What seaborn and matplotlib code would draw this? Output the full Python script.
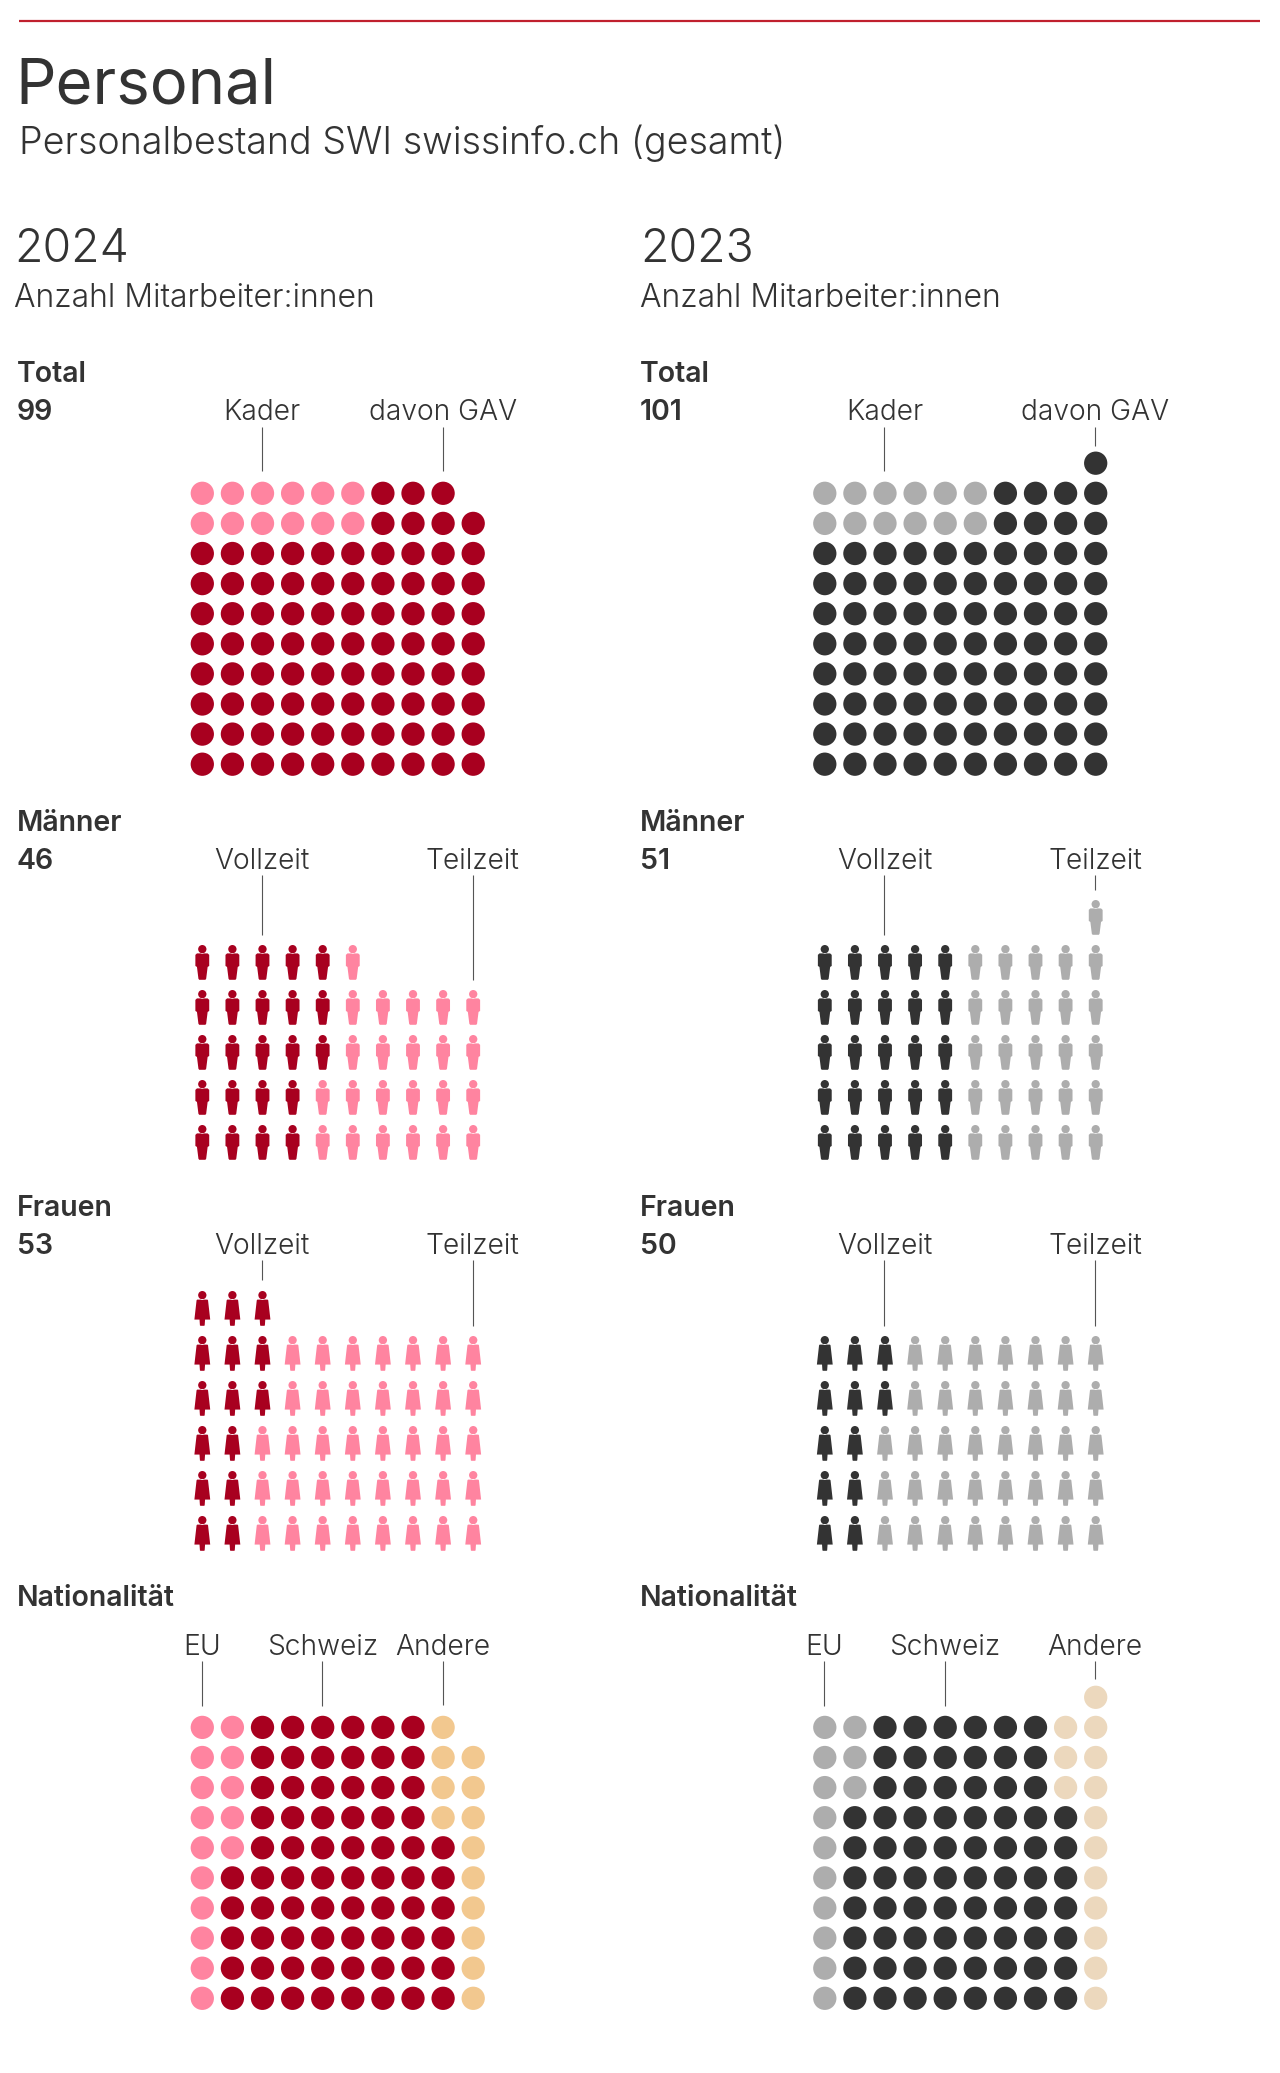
import numpy as np
import pandas as pd
import seaborn as sns
import matplotlib
matplotlib.use("Agg")
import matplotlib.pyplot as plt
from matplotlib.path import Path

W, H = 1280, 2073
# ---- data: per-column counts, each column stacked from the top ----
total_2024_kader = [2, 2, 2, 2, 2, 2, 0, 0, 0, 0]
total_2024_gav = [8, 8, 8, 8, 8, 8, 10, 10, 10, 9]
total_2023_kader = [2, 2, 2, 2, 2, 2, 0, 0, 0, 0]
total_2023_gav = [8, 8, 8, 8, 8, 8, 10, 10, 10, 11]
men_2024_voll = [5, 5, 5, 5, 3, 0, 0, 0, 0, 0]
men_2024_teil = [0, 0, 0, 0, 2, 5, 4, 4, 4, 4]
men_2023_voll = [5, 5, 5, 5, 5, 0, 0, 0, 0, 0]
men_2023_teil = [0, 0, 0, 0, 0, 5, 5, 5, 5, 6]
women_2024_voll = [6, 6, 3, 0, 0, 0, 0, 0, 0, 0]
women_2024_teil = [0, 0, 3, 5, 5, 5, 5, 5, 5, 5]
women_2023_voll = [5, 5, 2, 0, 0, 0, 0, 0, 0, 0]
women_2023_teil = [0, 0, 3, 5, 5, 5, 5, 5, 5, 5]
nat_2024_eu = [10, 5, 0, 0, 0, 0, 0, 0, 0, 0]
nat_2024_ch = [0, 5, 10, 10, 10, 10, 10, 10, 6, 0]
nat_2024_other = [0, 0, 0, 0, 0, 0, 0, 0, 4, 9]
nat_2023_eu = [10, 3, 0, 0, 0, 0, 0, 0, 0, 0]
nat_2023_ch = [0, 7, 10, 10, 10, 10, 10, 10, 7, 0]
nat_2023_other = [0, 0, 0, 0, 0, 0, 0, 0, 3, 11]

RED, PINK, TAN24 = "#A8001F", "#FF84A0", "#F2C88F"
DARK, GREY, TAN23 = "#333333", "#ADADAD", "#ECD8BD"
TEXT = "#333333"

sns.set_theme(style="white")
plt.rcParams["font.family"] = ["Inter", "DejaVu Sans"]

fig = plt.figure(figsize=(W / 100, H / 100), dpi=100, facecolor="white")
ov = fig.add_axes([0, 0, 1, 1], zorder=5)
ov.set_xlim(0, W); ov.set_ylim(H, 0); ov.axis("off"); ov.patch.set_alpha(0)


def body(points):
    return Path(points + [points[0]], closed=True)


def person(kind):
    head = Path.circle((0, 13.5), 4.2)
    if kind == "man":
        pts = [(-5.4, 9.2), (5.4, 9.2), (7.0, 7.7), (7.0, -3.5), (5.4, -4.5),
               (3.9, -16.5), (3.1, -17.5), (-3.1, -17.5), (-3.9, -16.5),
               (-5.4, -4.5), (-7.0, -3.5), (-7.0, 7.7)]
    else:
        pts = [(-5.2, 9.0), (5.2, 9.0), (5.8, 8.3), (8.0, -11.2), (2.8, -11.2),
               (2.4, -17.0), (1.9, -17.5), (-1.9, -17.5), (-2.4, -17.0),
               (-2.8, -11.2), (-8.0, -11.2), (-5.8, 8.3)]
    return Path.make_compound_path(head, body(pts))


def cells(columns):
    """columns: list of per-column counts for each group, stacked from the top."""
    rows = []
    heights = np.sum(columns, axis=0)
    for c, h in enumerate(heights):
        top = h - 1
        for g, col in enumerate(columns):
            for _ in range(col[c]):
                rows.append((c, top, g))
                top -= 1
    return pd.DataFrame(rows, columns=["col", "row", "group"])


def waffle(columns, colors, left, bottom_y, step_y, marker, size):
    step_x = 30.1
    nrows = 12
    x0 = left - step_x / 2
    h = nrows * step_y
    y_bottom = bottom_y + step_y / 2
    ax = fig.add_axes([x0 / W, 1 - y_bottom / H, 10 * step_x / W, h / H], zorder=2)
    df = cells(columns)
    sns.scatterplot(data=df, x="col", y="row", hue="group",
                    palette=dict(enumerate(colors)), marker=marker, s=size,
                    linewidth=0, legend=False, ax=ax, clip_on=False)
    ax.set_xlim(-0.5, 9.5); ax.set_ylim(-0.5, nrows - 0.5)
    ax.axis("off"); ax.patch.set_alpha(0)


def t(x, y, s, size, weight=300, ha="left"):
    ov.text(x, y, s, fontsize=size, fontweight=weight, color=TEXT, ha=ha, va="baseline")


def leader(x, y0, y1):
    ov.plot([x - 0.6, x - 0.6], [y0, y1], color="#555555", lw=0.8, solid_capstyle="butt")


LABEL, HEAD = 20.3, 20.5
ov.plot([19, 1260], [21, 21], color="#C0202E", lw=1.6, solid_capstyle="butt")
t(15, 103, "Personal", 45.6, 400)
t(19, 154, "Personalbestand SWI swissinfo.ch (gesamt)", 27.05)

DOT, PERSON = 281, 635
COLS = [(202.3, 14, 17, RED, PINK, TAN24), (824.8, 640, 640, DARK, GREY, TAN23)]
YEARS = ["2024", "2023"]
TOTALS = [("99", "46", "53"), ("101", "51", "50")]
DATA = [
    (total_2024_kader, total_2024_gav, men_2024_voll, men_2024_teil, women_2024_voll,
     women_2024_teil, nat_2024_eu, nat_2024_ch, nat_2024_other),
    (total_2023_kader, total_2023_gav, men_2023_voll, men_2023_teil, women_2023_voll,
     women_2023_teil, nat_2023_eu, nat_2023_ch, nat_2023_other),
]
# leader ends (px): Total GAV, Männer Teilzeit, Frauen Vollzeit, Andere col, Andere end
ENDS = [dict(gav=471, mt=980, fv=1280, oc=8, oe=1705),
        dict(gav=446, mt=890, fv=1326, oc=9, oe=1679)]

for i in range(2):
    x0, xh, xl, dark, light, tan = COLS[i]
    d = DATA[i]
    e = ENDS[i]
    cx = lambda k: x0 + 30.1 * k
    lx = lambda k: cx(k) - 0.5
    t(xh, 262, YEARS[i], 33.4)
    t(xh, 307, "Anzahl Mitarbeiter:innen", 23)

    t(xl, 382, "Total", HEAD, 600); t(xl, 420, TOTALS[i][0], HEAD, 600)
    t(lx(2), 420, "Kader", LABEL, ha="center"); leader(cx(2), 427, 471)
    t(lx(8 if i == 0 else 9), 420, "davon GAV", LABEL, ha="center")
    leader(cx(8 if i == 0 else 9), 427, e["gav"])
    waffle([d[0], d[1]], [light, dark], x0, 764.2, 30.1, "o", DOT)

    t(xl, 831, "Männer", HEAD, 600); t(xl, 869, TOTALS[i][1], HEAD, 600)
    t(lx(2), 869, "Vollzeit", LABEL, ha="center"); leader(cx(2), 875, 935)
    t(lx(9), 869, "Teilzeit", LABEL, ha="center"); leader(cx(9), 875, e["mt"])
    waffle([d[2], d[3]], [dark, light], x0, 1142.5, 45, person("man"), PERSON)

    t(xl, 1216, "Frauen", HEAD, 600); t(xl, 1254, TOTALS[i][2], HEAD, 600)
    t(lx(2), 1254, "Vollzeit", LABEL, ha="center"); leader(cx(2), 1260, e["fv"])
    t(lx(9), 1254, "Teilzeit", LABEL, ha="center"); leader(cx(9), 1260, 1326)
    waffle([d[4], d[5]], [dark, light], x0, 1533.5, 45, person("woman"), PERSON)

    t(xl, 1606, "Nationalität", HEAD, 600)
    t(lx(0), 1655, "EU", LABEL, ha="center"); leader(cx(0), 1661, 1706)
    t(lx(4), 1655, "Schweiz", LABEL, ha="center"); leader(cx(4), 1661, 1706)
    t(lx(e["oc"]), 1655, "Andere", LABEL, ha="center"); leader(cx(e["oc"]), 1661, e["oe"])
    waffle([d[6], d[8], d[7]], [light, tan, dark], x0, 1998.3, 30.1, "o", DOT)

fig.savefig("out.png", dpi=100, facecolor="white")
